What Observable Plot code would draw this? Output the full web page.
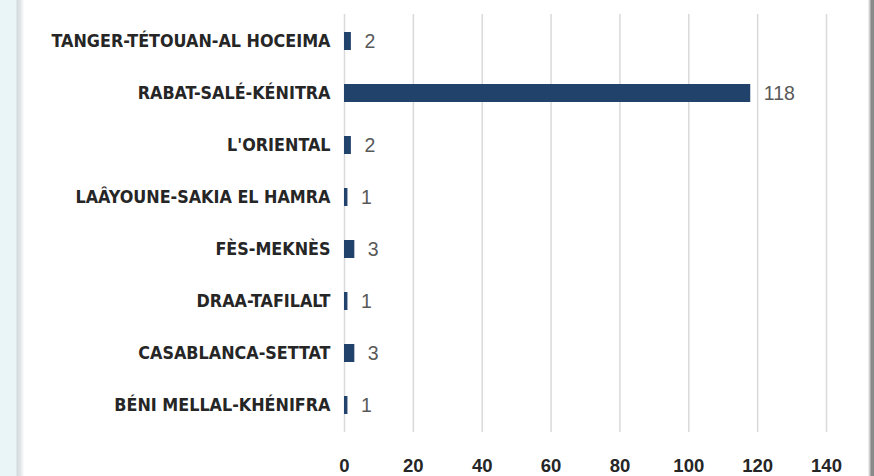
<!DOCTYPE html>
<html>
<head>
<meta charset="utf-8">
<script src="https://cdn.jsdelivr.net/npm/d3@7"></script>
<script src="https://cdn.jsdelivr.net/npm/@observablehq/plot@0.6"></script>
<style>
  html, body { margin: 0; padding: 0; background: #fff; }
  #frame {
    width: 874px; height: 476px; position: relative; overflow: hidden;
    background: linear-gradient(to right,
      #eaf5f8 0px, #eaf5f8 16px, #d3dadd 17px, #dfe4e6 20px, #f4f6f7 23px, #ffffff 24px,
      #ffffff 868px, #d9d9d9 869px, #c8c8c8 870px, #8a8a8a 871px, #8a8a8a 874px);
  }
  #frame svg { position: absolute; left: 0; top: 0; background: transparent; }
</style>
</head>
<body>
<div id="frame"></div>
<script>
const regions = [
  "TANGER-TÉTOUAN-AL HOCEIMA",
  "RABAT-SALÉ-KÉNITRA",
  "L'ORIENTAL",
  "LAÂYOUNE-SAKIA EL HAMRA",
  "FÈS-MEKNÈS",
  "DRAA-TAFILALT",
  "CASABLANCA-SETTAT",
  "BÉNI MELLAL-KHÉNIFRA"
];
const counts = [2, 118, 2, 1, 3, 1, 3, 1];
const xTicks = [0, 20, 40, 60, 80, 100, 120, 140];

const data = regions.map((r, i) => ({region: r, value: counts[i]}));
const condensed = "'DejaVu Sans Condensed', 'Liberation Sans Narrow', sans-serif";
const numFont = "'Liberation Sans', Arial, sans-serif";

const chart = Plot.plot({
  width: 874,
  height: 476,
  marginTop: 14,
  marginBottom: 44,
  marginLeft: 344,
  marginRight: 48,
  style: {background: "transparent", fontFamily: condensed, overflow: "visible"},
  x: {domain: [0, 140], ticks: xTicks, label: null},
  y: {domain: regions, label: null, paddingInner: 0.655, paddingOuter: 0.3275, align: 0.5},
  marks: [
    Plot.ruleX(xTicks, {stroke: "#d9d9d9", strokeWidth: 1.5}),
    Plot.barX(data, {x: "value", y: "region", fill: "#21426b"}),
    Plot.text(data, {x: "value", y: "region", text: d => String(d.value), textAnchor: "start", dx: 13, fill: "#595959", fontSize: 19.5, fontFamily: numFont}),
    Plot.axisY({tickSize: 0, tickPadding: 14, fontSize: 17.8, fontWeight: "bold", fill: "#262626", fontFamily: condensed}),
    Plot.axisX({ticks: xTicks, tickSize: 0, tickPadding: 26, fontSize: 18.5, fontWeight: "bold", fill: "#262626", fontFamily: numFont, tickFormat: d => String(d)})
  ]
});
document.getElementById("frame").appendChild(chart);
</script>
</body>
</html>
